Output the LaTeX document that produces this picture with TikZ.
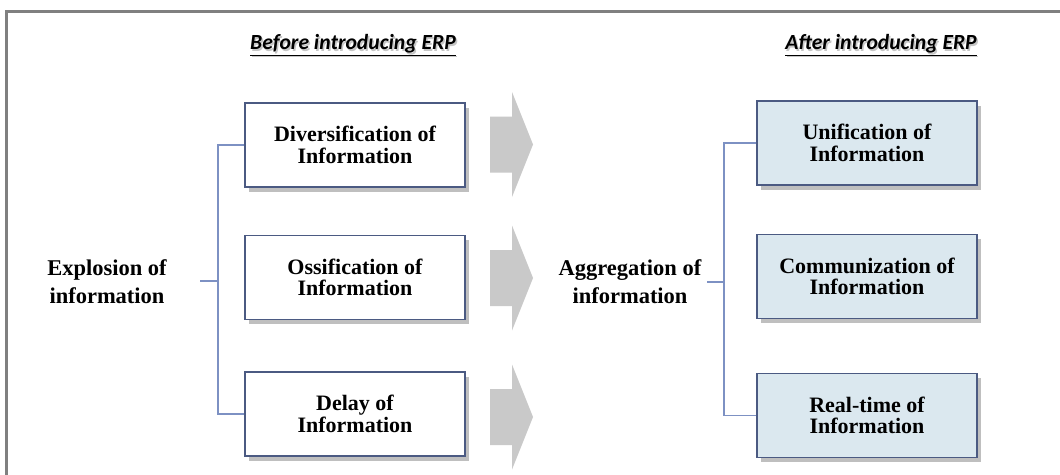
\documentclass[tikz,border=0pt]{standalone}
\usepackage{fontspec}
\newfontfamily\tnrfont{Liberation Serif}
\newfontfamily\califont{Carlito}
\usetikzlibrary{shadows}
\definecolor{framecol}{RGB}{128,128,128}
\definecolor{boxcol}{RGB}{75,90,130}
\definecolor{lincol}{RGB}{125,145,195}
\definecolor{rfill}{RGB}{219,232,239}
\definecolor{arrcol}{RGB}{201,201,201}
\definecolor{shcol}{RGB}{140,140,140}
\tikzset{
  box/.style={draw=boxcol, line width=1.8pt, minimum width=220pt, minimum height=84pt,
    align=center, inner sep=2pt,
    font=\tnrfont\bfseries\fontsize{22}{21.5}\selectfont,
    drop shadow={shadow xshift=3.5pt, shadow yshift=-4.5pt, fill=shcol, opacity=.55}},
  leftbox/.style={box, fill=white},
  rightbox/.style={box, fill=rfill},
  lab/.style={align=center, font=\tnrfont\bfseries\fontsize{22.5}{28}\selectfont},
  head/.style={font=\califont\bfseries\itshape\fontsize{21.6}{21.6}\selectfont},
  conn/.style={draw=lincol, line width=1.5pt},
  bigarrow/.style={fill=arrcol, draw=none}
}
\begin{document}
\begin{tikzpicture}[x=1pt,y=-1pt]
\useasboundingbox (0,0) rectangle (1060,474);
\fill[white] (0,0) rectangle (1060,474);
% frame
\draw[framecol, line width=3pt] (6,490) -- (6,11) -- (1070,11);

% headers
\node[head, text=gray!45] at (354.5,46.5) {\underline{Before introducing ERP}};
\node[head] (hbefore) at (353,45) {\underline{Before introducing ERP}};
\node[head, text=gray!45] at (882.5,46.5) {\underline{After introducing ERP}};
\node[head] (hafter) at (881,45) {\underline{After introducing ERP}};

% labels
\node[lab] (explo) at (107,282) {Explosion of\\information};
\node[lab] (aggr) at (630,282) {Aggregation of\\information};

% left boxes
\node[leftbox] (b1) at (355,145) {Diversification of\\Information};
\node[leftbox] (b2) at (355,277.5) {Ossification of\\Information};
\node[leftbox] (b3) at (355,414) {Delay of\\Information};

% right boxes
\node[rightbox] (r1) at (867,143) {Unification of\\Information};
\node[rightbox] (r2) at (867,276.5) {Communization of\\Information};
\node[rightbox] (r3) at (867,415.5) {Real-time of\\Information};

% brackets
\coordinate (ltick) at (200,281);
\coordinate (ljoin) at (218,281);
\draw[conn] (b1.west) -- (218,145) -- (218,414) -- (b3.west);
\draw[conn] (ltick) -- (ljoin);
\coordinate (rtick) at (707,282);
\coordinate (rjoin) at (724,282);
\draw[conn] (r1.west) -- (724,143) -- (724,415.5) -- (r3.west);
\draw[conn] (rtick) -- (rjoin);

% big arrows
\foreach \cy in {144.5,278,417}{
  \fill[bigarrow, shift={(0,\cy)}] (490,-28) -- (512,-28) -- (512,-52.5) -- (533,0)
     -- (512,52.5) -- (512,28) -- (490,28) -- cycle;
}
\end{tikzpicture}
\end{document}
